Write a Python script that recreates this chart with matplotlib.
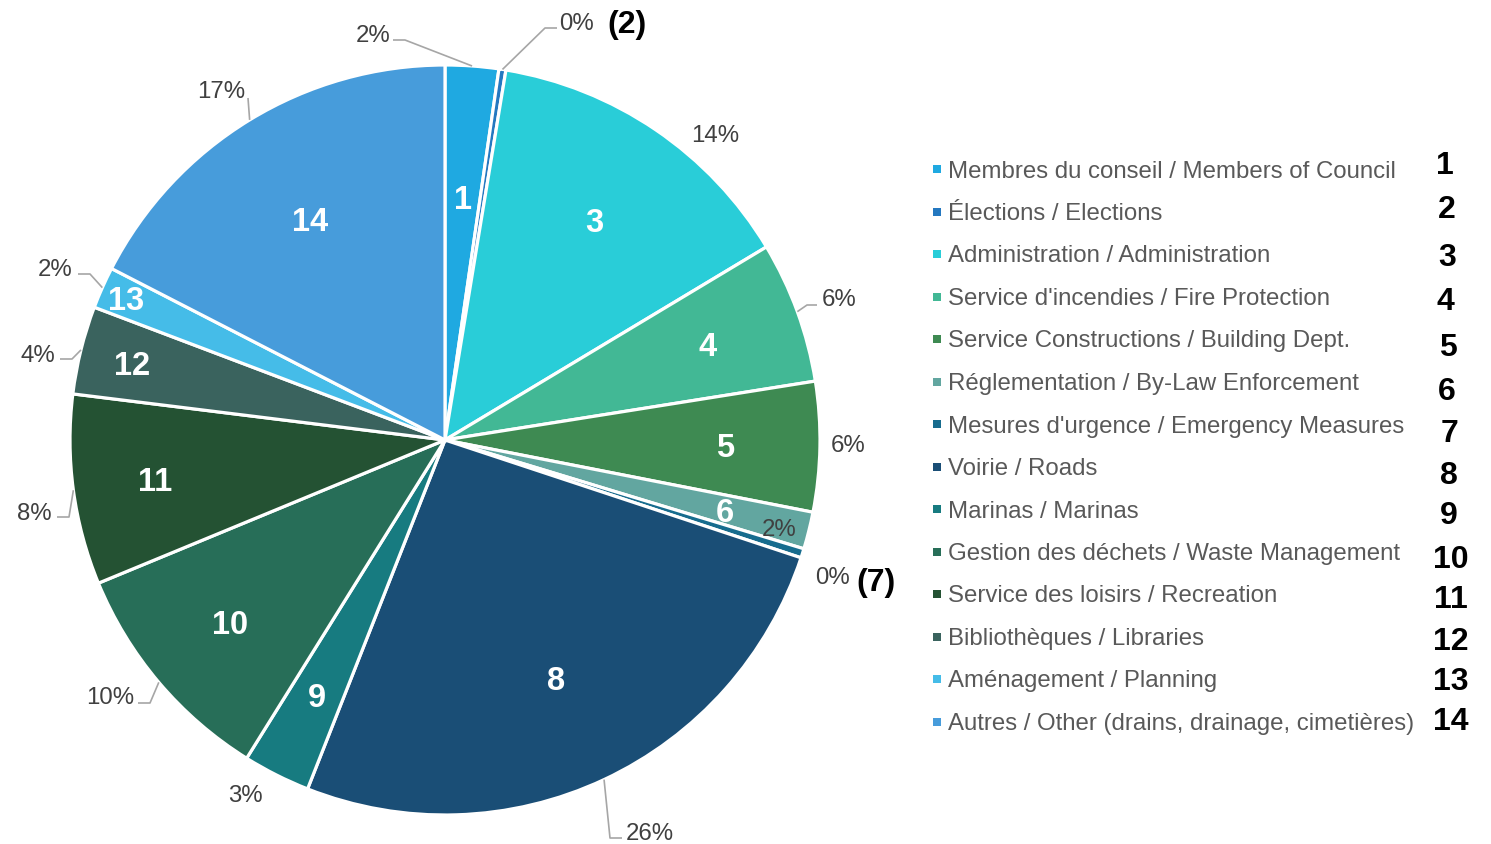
import matplotlib
matplotlib.use("Agg")
import matplotlib.pyplot as plt
import numpy as np
from matplotlib.patches import Rectangle

# ---------------- data ----------------
categories = [
    "Membres du conseil / Members of Council",
    "Élections / Elections",
    "Administration / Administration",
    "Service d'incendies / Fire Protection",
    "Service Constructions / Building Dept.",
    "Réglementation / By-Law Enforcement",
    "Mesures d'urgence / Emergency Measures",
    "Voirie / Roads",
    "Marinas / Marinas",
    "Gestion des déchets / Waste Management",
    "Service des loisirs / Recreation",
    "Bibliothèques / Libraries",
    "Aménagement / Planning",
    "Autres / Other (drains, drainage, cimetières)",
]
numbers = ["1", "2", "3", "4", "5", "6", "7", "8", "9", "10", "11", "12", "13", "14"]
values = [2.3, 0.3, 13.8, 6.1, 5.6, 1.6, 0.4, 25.9, 2.9, 9.9, 8.2, 3.8, 1.8, 17.45]

# ---------------- style ----------------
colors = ["#1FA9E1", "#2478C0", "#29CDD8", "#42B895", "#3E8A52", "#62A6A0",
          "#176C8E", "#1A4E76", "#177B80", "#276E58", "#245233", "#3A635E",
          "#45BCE8", "#479CDB"]
inner_frac = [0.65, None, 0.71, 0.745, 0.747, 0.77, None, 0.70, 0.76, 0.75,
              0.78, 0.86, 0.93, 0.69]
# percent label centres (pixel coords, y from top)
pct_pos = [(373, 33), (577, 22), (715, 133), (839, 298), (848, 443), (779, 527),
           (832, 575), (650, 832), (245, 793), (110, 695), (34, 511), (38, 353),
           (55, 268), (221, 89)]
# leader elbows (pixel coords, y from top), start computed from wedge edge
leaders = {
    0: [(405, 40), (393, 40)],
    1: [(545, 28), (557, 28)],
    3: [(807, 305), (817, 305)],
    7: [(610, 838), (622, 838)],
    9: [(150, 703), (138, 703)],
    10: [(69, 517), (57, 517)],
    11: [(72, 359), (60, 359)],
    12: [(90, 274), (78, 274)],
    13: [(248, 98)],
}
bold_tags = {1: ((627, 22), "(2)"), 6: ((876, 580), "(7)")}

plt.rcParams['font.family'] = ['Liberation Sans', 'DejaVu Sans']

W, H = 1491, 844
fig = plt.figure(figsize=(W / 100, H / 100), dpi=100)
ax = fig.add_axes([0, 0, 1, 1])


def Y(y):
    return H - y


VA = "center_baseline"

cx, cy, R = 445, Y(440), 375
wedges, _ = ax.pie(values, colors=colors, startangle=90, counterclock=False,
                   center=(cx, cy), radius=R,
                   wedgeprops=dict(edgecolor="white", linewidth=2.3))
ax.set_xlim(0, W)
ax.set_ylim(0, H)
ax.set_aspect("auto")
ax.axis("off")

total = float(sum(values))
for i, w in enumerate(wedges):
    mid = np.deg2rad((w.theta1 + w.theta2) / 2)
    # inner number
    if inner_frac[i] is not None:
        f = inner_frac[i]
        ax.text(cx + f * R * np.cos(mid), cy + f * R * np.sin(mid), numbers[i],
                color="white", fontsize=23.5, fontweight="bold",
                ha="center", va=VA)
    # percentage label
    px, py = pct_pos[i]
    ax.text(px, Y(py), f"{values[i] / total * 100:.0f}%", color="#404040",
            fontsize=17.3, ha="center", va=VA)
    if i in leaders:
        sx = cx + R * np.cos(mid)
        sy = cy + R * np.sin(mid)
        xs = [sx] + [p[0] for p in leaders[i]]
        ys = [sy] + [Y(p[1]) for p in leaders[i]]
        ax.plot(xs, ys, color="#A6A6A6", lw=1.2, solid_capstyle="butt")

for i, ((bx, by), t) in bold_tags.items():
    ax.text(bx, Y(by), t, color="black", fontsize=23, fontweight="bold",
            ha="center", va=VA)

# legend
row0, dy = 169, 42.5
num_y = [163, 206, 254, 298, 345, 388, 431, 472, 513, 556, 597, 638, 679, 719]
num_x = [1445, 1447, 1447, 1445, 1448, 1447, 1449, 1449, 1449, 1451, 1451,
         1451, 1451, 1451]
for i, cat in enumerate(categories):
    yy = row0 + i * dy
    ax.add_patch(Rectangle((933, Y(yy) - 4), 8, 8, color=colors[i], lw=0))
    ax.text(948, Y(yy), cat, color="#595959", fontsize=17.3,
            ha="left", va=VA)
    ax.text(num_x[i], Y(num_y[i]), numbers[i], color="black", fontsize=23,
            fontweight="bold", ha="center", va=VA)

fig.savefig("out.png", dpi=100, facecolor="white")
